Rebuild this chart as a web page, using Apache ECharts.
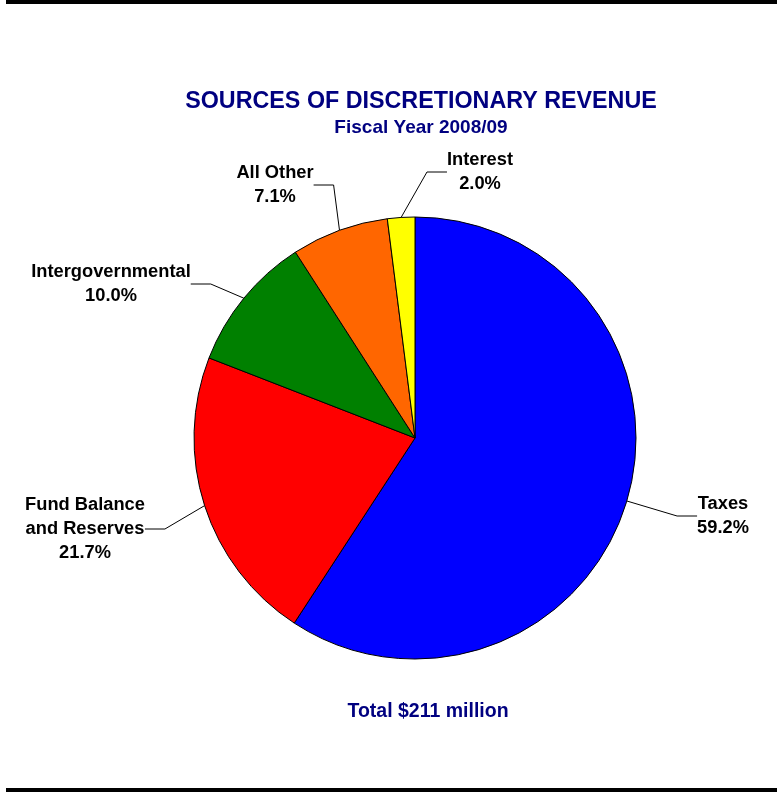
<!DOCTYPE html>
<html>
<head>
<meta charset="utf-8">
<script src="https://cdn.jsdelivr.net/npm/echarts@6/dist/echarts.min.js"></script>
<style>
  html, body { margin: 0; padding: 0; background: #fff; }
  #main { width: 777px; height: 792px; }
</style>
</head>
<body>
<div id="main"></div>
<script>
// slices, clockwise from 12 o'clock
var sources = ["Taxes", "Fund Balance\nand Reserves", "Intergovernmental", "All Other", "Interest"];
var shares = [59.2, 21.7, 10.0, 7.1, 2.0];
var colors = ["#0000ff", "#ff0000", "#008000", "#ff6600", "#ffff00"];

// where each label sits (text centre)
var labelPos = [
  [723, 516],
  [85, 529],
  [111, 284],
  [275, 185],
  [480, 172]
];

var chart = echarts.init(document.getElementById("main"), null, { renderer: "canvas" });

var pieData = sources.map(function (s, i) {
  return { name: s, value: shares[i], itemStyle: { color: colors[i] } };
});

var option = {
  backgroundColor: "#fff",
  animation: false,
  title: [
    {
      text: "SOURCES OF DISCRETIONARY REVENUE",
      subtext: "Fiscal Year 2008/09",
      left: 416,
      top: 85,
      textAlign: "center",
      itemGap: 5,
      textStyle: { fontFamily: "Liberation Sans", fontWeight: "bold", fontSize: 23.3, color: "#000080" },
      subtextStyle: { fontFamily: "Liberation Sans", fontWeight: "bold", fontSize: 19, color: "#000080" }
    },
    {
      text: "Total $211 million",
      left: 423,
      top: 697,
      textAlign: "center",
      textStyle: { fontFamily: "Liberation Sans", fontWeight: "bold", fontSize: 19.5, color: "#000080" }
    }
  ],
  graphic: [
    { type: "rect", shape: { x: 6, y: 0, width: 771, height: 4 }, style: { fill: "#000" } },
    { type: "rect", shape: { x: 6, y: 788, width: 771, height: 4 }, style: { fill: "#000" } }
  ],
  series: [
    {
      type: "pie",
      center: [415, 438],
      radius: 221,
      startAngle: 90,
      clockwise: true,
      data: pieData,
      itemStyle: { borderColor: "#000", borderWidth: 1 },
      emphasis: { disabled: true },
      label: {
        show: true,
        position: "outside",
        formatter: function (p) { return p.name + "\n" + p.value.toFixed(1) + "%"; },
        fontFamily: "Liberation Sans",
        fontWeight: "bold",
        fontSize: 18.3,
        lineHeight: 24,
        color: "#000",
        align: "center"
      },
      labelLine: {
        show: true,
        length: 20,
        length2: 20,
        lineStyle: { color: "#000", width: 1 }
      },
      labelLayout: function (params) {
        var pos = labelPos[params.dataIndex];
        return { x: pos[0], y: pos[1], align: "center", verticalAlign: "middle" };
      }
    }
  ]
};

chart.setOption(option);
</script>
</body>
</html>
